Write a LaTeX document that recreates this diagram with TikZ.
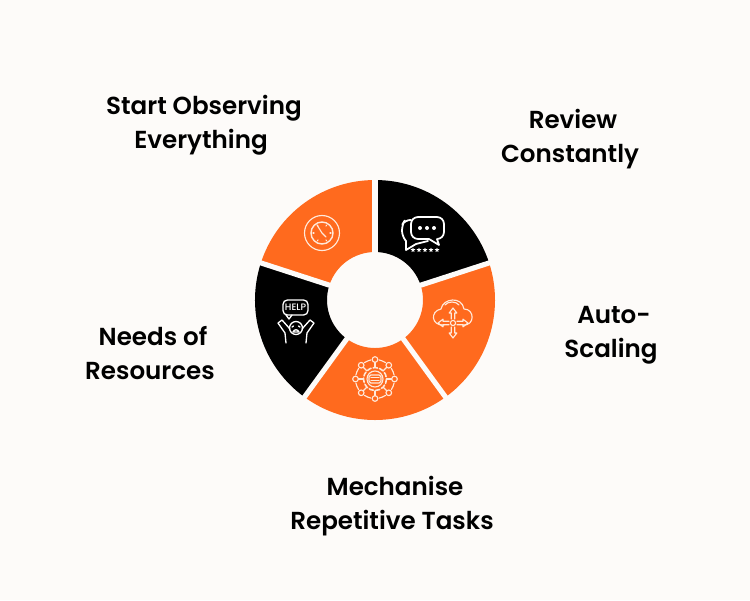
\documentclass[tikz,border=0pt]{standalone}
\usepackage{fontspec}
\usetikzlibrary{shapes.geometric}
\setmainfont{Poppins SemiBold}
\newfontfamily\helpfont{Poppins Medium}
\definecolor{pagebg}{HTML}{FDFBF9}
\definecolor{ringorange}{HTML}{FF6A1E}
\definecolor{iconcream}{HTML}{FFE9DA}
\tikzset{
  label/.style={align=center, font=\fontsize{14}{19.3}\selectfont, text=black},
  icon/.style={draw=#1, line width=0.65pt, line cap=round, line join=round},
  gap/.style={draw=pagebg, line width=2.9pt},
  starmark/.style={star, star points=5, star point ratio=2.2, fill=white, inner sep=0pt, minimum size=0.1cm}
}
\newcommand{\ringseg}[3]{\fill[#1] (#2:120) arc (#2:#3:120) -- (#3:48) arc (#3:#2:48) -- cycle;}
\newcommand{\nudge}{\hspace*{0.12cm}}
\begin{document}
\begin{tikzpicture}[x=0.02cm, y=0.02cm]
  \fill[pagebg] (-375,-300) rectangle (375,300);

  % Ring
  \ringseg{black}{90}{18}
  \ringseg{ringorange}{18}{-54}
  \ringseg{ringorange}{-54}{-126}
  \ringseg{black}{-126}{-198}
  \ringseg{ringorange}{162}{90}
  \foreach \a in {90,18,-54,-126,162}
    \draw[gap] (\a:44) -- (\a:124);

  % Labels
  \node (observe) [label] at (-171,175) {Start Observing\\Everything\nudge};
  \node (review) [label] at (195,161) {\nudge Review\\Constantly};
  \node (scaling) [label] at (236,-35) {\nudge Auto-\\Scaling};
  \node (mechanise) [label] at (17,-206) {\nudge Mechanise\\Repetitive Tasks};
  \node (needs) [label] at (-225,-53) {\nudge Needs of\\Resources};

  % Icons, in pixels of the page
  \begin{scope}[shift={(-375,300)}, yscale=-1]
    % Clock
    \begin{scope}[icon=iconcream]
      \draw (322,233) circle (17.5);
      \draw[line width=0.8pt] (322,233) circle (11);
      \draw (322,233) -- (317,225) (322,233) -- (326,237);
      \foreach \a in {0,60,...,300}
        \draw (322,233) ++(\a:8) -- ++(\a:1);
    \end{scope}

    % Chat bubbles
    \begin{scope}[icon=white, line width=1pt]
      \draw[rounded corners=4pt] (411,217) rectangle (444,239);
      \draw[fill=black, draw=black] (430,238) -- (438,244) -- (436,238) -- cycle;
      \draw (429,239) -- (439,245) -- (437,239);
      \draw[rounded corners=3pt] (411,220) -- (405,220) -- (402,225) -- (402,236) -- (406,241);
      \draw (406,241) -- (406,250) -- (416,244) -- (428,241);
      \foreach \x in {420,427,434}
        \fill[white] (\x,228) circle (2);
      \foreach \x in {413,419,425,431,437}
        \node[starmark, draw=none] at (\x,250) {};
    \end{scope}

    % Cloud
    \begin{scope}[icon=iconcream]
      \draw (444,325) .. controls (431,326) and (430,311) .. (441,309)
        .. controls (443,298) and (462,296) .. (464,309)
        .. controls (475,309) and (475,326) .. (463,325);
      \draw (445,305) .. controls (448,301) and (456,301) .. (459,305);
      \draw (453,323) circle (2.6);
      \foreach \a in {0,90,180,270}
        \draw[shift={(453,323)}, rotate=\a] (-1.7,4) -- (-1.7,10) -- (-3.8,10) -- (0,15) -- (3.8,10) -- (1.7,10) -- (1.7,4);
    \end{scope}

    % Gear network
    \begin{scope}[icon=iconcream]
      \foreach \a in {0,45,...,315} {
        \draw (375,379) ++(\a:19.5) circle (2.8);
        \draw (375,379) ++(\a+12:19.5) arc (\a+12:\a+33:19.5);
        \draw (375,379) ++(\a:12) -- ++(\a:4.5);
      }
      \draw[line width=0.9pt, dash pattern=on 2.5pt off 1.2pt] (375,379) circle (11.5);
      \draw (375,379) circle (8);
      \draw[rounded corners=1pt] (369,375) rectangle (381,383);
      \draw (371,377.5) -- (379,377.5) (371,380.5) -- (379,380.5);
    \end{scope}

    % Help
    \begin{scope}[icon=white, line width=0.75pt]
      \draw[rounded corners=2.5pt] (283,300) rectangle (308,315);
      \draw (286,315) -- (289,319) -- (292,315);
      \node (help) at (295.5,307.5) [inner sep=0pt, text=white, font=\helpfont\fontsize{5.3}{6}\selectfont] {HELP};
      \draw (296,328) circle (6.5);
      \draw (292,327) -- (293.5,326) (298.5,326) -- (300,327);
      \draw (293,332) .. controls (294,329) and (298,329) .. (299,332) -- cycle;
      \draw (286,343) -- (285,333) -- (278,323) -- (282,320) -- (290,329);
      \draw (306,343) -- (307,333) -- (314,323) -- (310,320) -- (302,329);
    \end{scope}
  \end{scope}
\end{tikzpicture}
\end{document}
